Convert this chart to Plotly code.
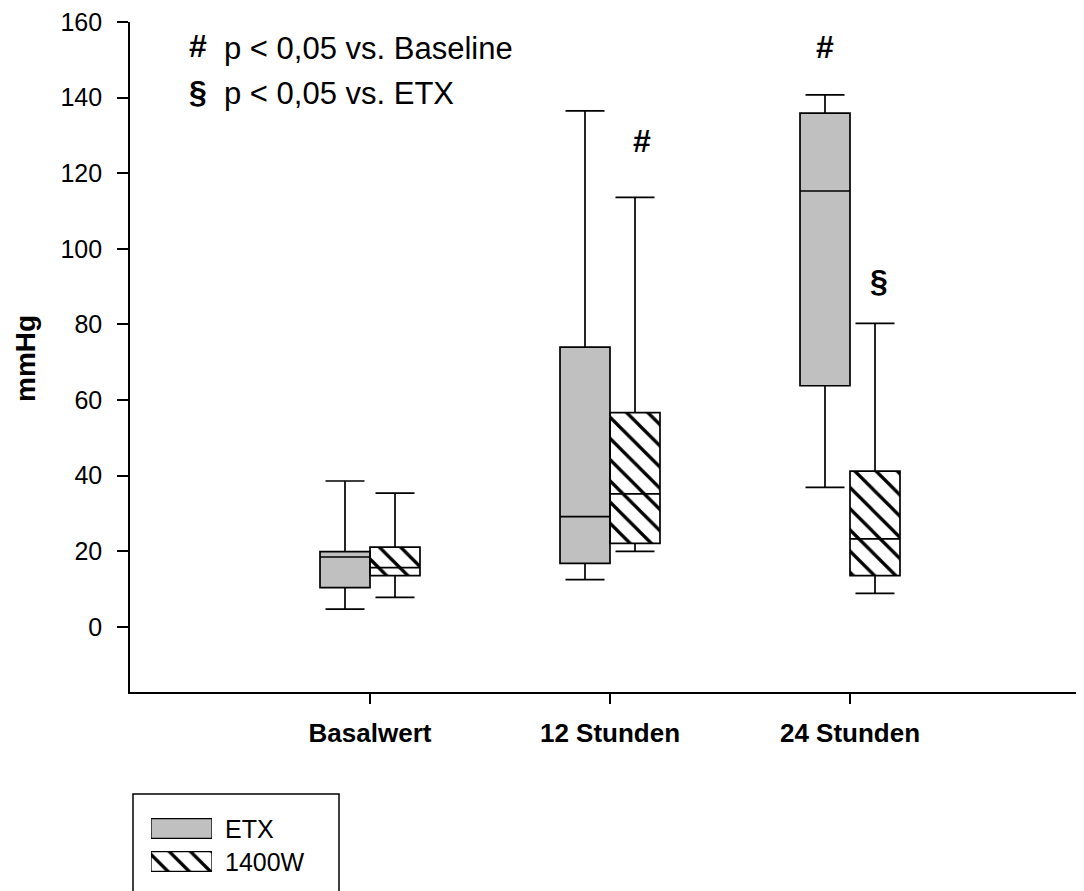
import plotly.graph_objects as go

# ---- data ----
categories = ["Basalwert", "12 Stunden", "24 Stunden"]
series_names = ["ETX", "1400W"]

etx_lower = [4.7, 12.5, 36.9]
etx_q1 = [10.4, 16.8, 63.8]
etx_median = [18.5, 29.2, 115.3]
etx_q3 = [19.9, 74.0, 135.9]
etx_upper = [38.6, 136.5, 140.7]

w_lower = [7.8, 20.0, 8.9]
w_q1 = [13.6, 22.1, 13.6]
w_median = [15.7, 35.2, 23.3]
w_q3 = [21.1, 56.7, 41.2]
w_upper = [35.4, 113.6, 80.3]

y_ticks = [0, 20, 40, 60, 80, 100, 120, 140, 160]

# ---- layout constants (page pixels; page body has an 8px margin) ----
OFS = 8
W, H = 1084 - OFS, 891 - OFS
ML, MR, MT, MB = 130 - OFS, 0, 22 - OFS, 0
PW, PH = W - ML - MR, H - MT - MB
PLOT_BOTTOM_PX = 692


def px_x(px):
    return (px - OFS - ML) / PW


def px_y(py):
    return (H - MB - (py - OFS)) / PH


FONT = "Liberation Sans, Arial, Helvetica, sans-serif"
GRAY = "#c0c0c0"
BOX_W = 0.2083
OFF = BOX_W / 2
HATCH = dict(shape="\\", fgcolor="black", bgcolor="white", size=15, solidity=0.22, fillmode="replace")

fig = go.Figure()

idx = list(range(len(categories)))
groups = [
    (series_names[0], [i - OFF for i in idx], etx_lower, etx_q1, etx_median, etx_q3, etx_upper,
     dict(color=GRAY)),
    (series_names[1], [i + OFF for i in idx], w_lower, w_q1, w_median, w_q3, w_upper,
     dict(color="white", pattern=HATCH)),
]

for name, xs, lo, q1, med, q3, up, mk in groups:
    fig.add_trace(go.Bar(
        x=xs, base=q1, y=[b - a for a, b in zip(q1, q3)], width=BOX_W,
        marker=dict(line=dict(width=0), **mk), name=name, showlegend=False,
        hoverinfo="skip", xaxis="x", yaxis="y",
    ))
    fig.add_trace(go.Box(
        x=xs, q1=q1, median=med, q3=q3, lowerfence=lo, upperfence=up,
        width=BOX_W, whiskerwidth=0.78, boxpoints=False,
        fillcolor="rgba(0,0,0,0)", line=dict(color="black", width=1.7),
        name=name, showlegend=False, xaxis="x", yaxis="y",
    ))

# legend swatches in an inset axis
for j, (name, mk) in enumerate([(series_names[0], dict(color=GRAY)),
                                 (series_names[1], dict(color="white", pattern=HATCH))]):
    fig.add_trace(go.Bar(
        x=[1], y=[1 - j], base=[0], orientation="h", width=0.6,
        marker=dict(line=dict(color="black", width=1.3), **mk),
        showlegend=False, hoverinfo="skip", xaxis="x2", yaxis="y2",
    ))

fig.update_layout(
    width=W, height=H,
    margin=dict(l=ML, r=MR, t=MT, b=MB),
    paper_bgcolor="white", plot_bgcolor="white",
    barmode="overlay", boxmode="overlay",
    font=dict(family=FONT, color="black"),
    xaxis=dict(
        domain=[0, 1], range=[-1.0, 2.975],
        tickvals=idx, ticktext=[f"<b>{c}</b>" for c in categories],
        tickfont=dict(size=26, family=FONT),
        ticks="outside", ticklen=10, tickwidth=1.5, tickcolor="black",
        showline=True, linecolor="black", linewidth=1.6,
        showgrid=False, zeroline=False, ticklabelstandoff=7,
        anchor="y",
    ),
    yaxis=dict(
        domain=[px_y(PLOT_BOTTOM_PX), 1], range=[-17.2, 160],
        tickvals=y_ticks, tickfont=dict(size=25, family=FONT),
        ticks="outside", ticklen=11, tickwidth=1.5, tickcolor="black",
        showline=True, linecolor="black", linewidth=1.6,
        showgrid=False, zeroline=False, ticklabelstandoff=10,
        ticklabeloverflow="allow",
        anchor="x",
    ),
    xaxis2=dict(domain=[px_x(151), px_x(212)], range=[0, 1], visible=False, anchor="y2"),
    yaxis2=dict(domain=[px_y(878), px_y(812)], range=[-0.5, 1.5], visible=False, anchor="x2"),
    showlegend=False,
)

ann = []
# y-axis title
ann.append(dict(text="<b>mmHg</b>", x=px_x(25), y=px_y(359), xref="paper", yref="paper",
                textangle=-90, showarrow=False, font=dict(size=28, family=FONT),
                xanchor="center", yanchor="middle"))
# key text top-left
ann.append(dict(text="<b>#</b>", x=px_x(198), y=px_y(46), xref="paper", yref="paper",
                showarrow=False, font=dict(size=32, family=FONT), xanchor="center", yanchor="middle"))
ann.append(dict(text="p < 0,05 vs. Baseline", x=px_x(222), y=px_y(49), xref="paper", yref="paper",
                showarrow=False, font=dict(size=31, family=FONT), xanchor="left", yanchor="middle"))
ann.append(dict(text="<b>§</b>", x=px_x(198), y=px_y(92), xref="paper", yref="paper",
                showarrow=False, font=dict(size=32, family=FONT), xanchor="center", yanchor="middle"))
ann.append(dict(text="p < 0,05 vs. ETX", x=px_x(222), y=px_y(94), xref="paper", yref="paper",
                showarrow=False, font=dict(size=31, family=FONT), xanchor="left", yanchor="middle"))
# significance markers
ann.append(dict(text="<b>#</b>", x=1 + 0.133, y=128.5, xref="x", yref="y", showarrow=False,
                font=dict(size=32, family=FONT), xanchor="center", yanchor="middle"))
ann.append(dict(text="<b>#</b>", x=1.896, y=153.5, xref="x", yref="y", showarrow=False,
                font=dict(size=32, family=FONT), xanchor="center", yanchor="middle"))
ann.append(dict(text="<b>§</b>", x=2.12, y=91.5, xref="x", yref="y", showarrow=False,
                font=dict(size=32, family=FONT), xanchor="center", yanchor="middle"))
# legend labels
ann.append(dict(text="ETX", x=px_x(223), y=px_y(829), xref="paper", yref="paper", showarrow=False,
                font=dict(size=25, family=FONT), xanchor="left", yanchor="middle"))
ann.append(dict(text="1400W", x=px_x(223), y=px_y(862), xref="paper", yref="paper", showarrow=False,
                font=dict(size=25, family=FONT), xanchor="left", yanchor="middle"))
fig.update_layout(annotations=ann)

# legend frame
fig.add_shape(type="rect", xref="paper", yref="paper",
              x0=px_x(133), x1=px_x(339), y0=px_y(905), y1=px_y(794),
              line=dict(color="black", width=1.5), fillcolor="rgba(0,0,0,0)")

fig.write_html("out.html")
